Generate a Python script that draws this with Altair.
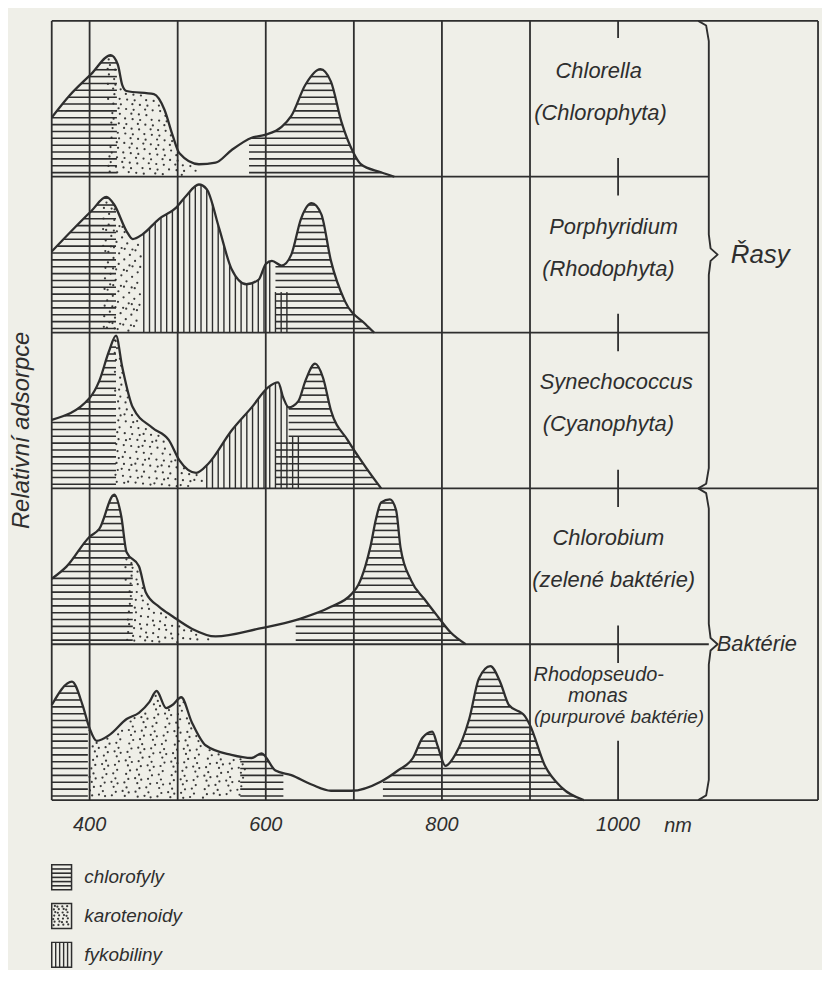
import altair as alt
import pandas as pd
import numpy as np

# ---------------- data ----------------
ROWS = ["Chlorella", "Porphyridium", "Synechococcus", "Chlorobium", "Rhodopseudomonas"]

chlorella_nm = [357, 377, 402, 424, 432, 437, 442, 473, 485, 494, 502, 524, 543, 561, 584, 600,
                618, 629, 645, 662, 674, 686, 699, 708, 730, 746]
chlorella_abs = [0.38, 0.52, 0.66, 0.78, 0.72, 0.59, 0.55, 0.53, 0.43, 0.27, 0.15, 0.08, 0.09, 0.17,
                 0.25, 0.27, 0.32, 0.39, 0.59, 0.69, 0.61, 0.35, 0.16, 0.08, 0.03, 0.0]

porphyridium_nm = [357, 402, 419, 428, 442, 449, 460, 479, 498, 510, 524, 533, 547, 561, 578, 592,
                   600, 607, 618, 629, 640, 652, 663, 674, 690, 713, 723]
porphyridium_abs = [0.52, 0.78, 0.87, 0.82, 0.65, 0.60, 0.63, 0.73, 0.80, 0.88, 0.95, 0.92, 0.67,
                    0.41, 0.31, 0.34, 0.44, 0.46, 0.43, 0.50, 0.73, 0.83, 0.76, 0.46, 0.20, 0.055, 0.0]

synechococcus_nm = [357, 400, 411, 422, 430, 437, 449, 471, 490, 502, 521, 535, 561, 584, 603, 614,
                    620, 626, 637, 645, 656, 665, 674, 693, 713, 731]
synechococcus_abs = [0.44, 0.58, 0.69, 0.88, 0.98, 0.78, 0.52, 0.39, 0.31, 0.18, 0.10, 0.16, 0.37,
                     0.52, 0.65, 0.68, 0.58, 0.52, 0.56, 0.69, 0.80, 0.71, 0.50, 0.31, 0.14, 0.0]

chlorobium_nm = [357, 374, 400, 411, 428, 436, 442, 456, 464, 479, 494, 516, 543, 592, 637, 674,
                 697, 705, 713, 719, 725, 731, 741, 748, 753, 765, 780, 795, 810, 827]
chlorobium_abs = [0.42, 0.50, 0.69, 0.74, 0.96, 0.82, 0.59, 0.50, 0.33, 0.24, 0.18, 0.10, 0.05,
                  0.10, 0.16, 0.24, 0.32, 0.38, 0.50, 0.63, 0.80, 0.91, 0.93, 0.86, 0.62, 0.41,
                  0.29, 0.18, 0.075, 0.0]

rhodopseudomonas_nm = [357, 380, 392, 400, 408, 423, 442, 456, 468, 476, 487, 494, 504, 516, 532,
                       561, 584, 595, 611, 629, 652, 674, 697, 731, 750, 767, 778, 789, 795, 804,
                       815, 831, 842, 855, 866, 876, 894, 900, 917, 936, 961]
rhodopseudomonas_abs = [0.61, 0.76, 0.61, 0.46, 0.38, 0.42, 0.52, 0.56, 0.63, 0.70, 0.59, 0.61,
                        0.66, 0.50, 0.35, 0.29, 0.27, 0.30, 0.19, 0.16, 0.10, 0.06, 0.06, 0.12,
                        0.19, 0.27, 0.40, 0.44, 0.35, 0.22, 0.29, 0.52, 0.78, 0.86, 0.76, 0.61,
                        0.54, 0.48, 0.22, 0.08, 0.0]

SPECTRA = {
    "Chlorella": (chlorella_nm, chlorella_abs),
    "Porphyridium": (porphyridium_nm, porphyridium_abs),
    "Synechococcus": (synechococcus_nm, synechococcus_abs),
    "Chlorobium": (chlorobium_nm, chlorobium_abs),
    "Rhodopseudomonas": (rhodopseudomonas_nm, rhodopseudomonas_abs),
}

PIGMENTS = ["chlorofyly", "karotenoidy", "fykobiliny"]

# pigment band of each spectrum: (row, pigment, from nm, to nm, upper limit of the band)
region_row = ["Chlorella", "Chlorella", "Chlorella",
              "Porphyridium", "Porphyridium", "Porphyridium", "Porphyridium", "Porphyridium",
              "Synechococcus", "Synechococcus", "Synechococcus", "Synechococcus", "Synechococcus", "Synechococcus",
              "Chlorobium", "Chlorobium", "Chlorobium",
              "Rhodopseudomonas", "Rhodopseudomonas", "Rhodopseudomonas", "Rhodopseudomonas"]
region_pig = ["chlorofyly", "karotenoidy", "chlorofyly",
              "chlorofyly", "karotenoidy", "fykobiliny", "fykobiliny", "chlorofyly",
              "chlorofyly", "karotenoidy", "fykobiliny", "fykobiliny", "chlorofyly", "chlorofyly",
              "chlorofyly", "karotenoidy", "chlorofyly",
              "chlorofyly", "karotenoidy", "chlorofyly", "chlorofyly"]
region_from = [357, 420, 581,
               357, 415, 458, 611, 611,
               357, 428, 533, 626, 611, 626,
               357, 440, 634,
               357, 398, 571, 733]
region_to = [431, 526, 746,
             430, 458, 611, 630, 723,
             430, 533, 626, 643, 626, 731,
             449, 540, 827,
             398, 580, 620, 961]
region_cap = [1, 1, 1,
              1, 1, 1, 0.26, 1,
              1, 1, 1, 0.33, 0.33, 1,
              1, 1, 1,
              1, 1, 1, 1]

species_text = [["Chlorella", "(Chlorophyta)"],
                ["Porphyridium", "(Rhodophyta)"],
                ["Synechococcus", "(Cyanophyta)"],
                ["Chlorobium", "(zelené baktérie)"],
                ["Rhodopseudo-", "monas", "(purpurové baktérie)"]]

group_names = ["Řasy", "Baktérie"]
group_first_row = [0, 3]
group_last_row = [2, 4]

grid_nm = [400, 500, 600, 700, 800, 900]
tick_labels = [400, 600, 800, 1000]
unit_label = "nm"
y_title = "Relativní adsorpce"

# ---------------- layout / style ----------------
X0, X1 = 357, 1227          # plot area in nm
BRACE_X = 1103
TEXT_X = [[978, 980], [995, 989], [998, 989], [989, 995], [978, 977, 1001]]
INK = "#2e2e2e"
PAPER = "#efefe8"
FONT = "Liberation Sans"
H_STEP = 0.044              # horizontal hatch spacing (row units)
V_STEP = 6.5                # vertical hatch spacing (nm)
PX_X = 771 / (X1 - X0)
PX_Y = 784 / 5.0


def monotone(xs, ys):
    xs = np.asarray(xs, float)
    ys = np.asarray(ys, float)
    n = len(xs)
    h = np.diff(xs)
    s = np.diff(ys) / h
    t = np.zeros(n)
    for i in range(1, n - 1):
        p = (s[i - 1] * h[i] + s[i] * h[i - 1]) / (h[i - 1] + h[i])
        t[i] = (np.sign(s[i - 1]) + np.sign(s[i])) * min(abs(s[i - 1]), abs(s[i]), 0.5 * abs(p))
    t[0] = (3 * s[0] - t[1]) / 2
    t[-1] = (3 * s[-1] - t[-2]) / 2

    def f(x):
        x = np.asarray(x, float)
        i = np.clip(np.searchsorted(xs, x, side="right") - 1, 0, n - 2)
        hh = h[i]
        u = (x - xs[i]) / hh
        h00 = 2 * u ** 3 - 3 * u ** 2 + 1
        h10 = u ** 3 - 2 * u ** 2 + u
        h01 = -2 * u ** 3 + 3 * u ** 2
        h11 = u ** 3 - u ** 2
        return h00 * ys[i] + h10 * hh * t[i] + h01 * ys[i + 1] + h11 * hh * t[i + 1]
    return f


def r2_points(n):
    g = 1.32471795724474602596
    k = np.arange(1, n + 1)
    return (0.5 + k / g) % 1.0, (0.5 + k / g ** 2) % 1.0


curve_rows, hrules, vrules, dots = [], [], [], []
funcs = {}
for i, name in enumerate(ROWS):
    nm, ab = SPECTRA[name]
    base = 4 - i
    funcs[name] = monotone(nm, ab)
    for k, (a, b) in enumerate(zip(nm, ab)):
        curve_rows.append({"row": name, "nm": a, "y": base + b, "k": k})

for name, pig, a0, a1, cap in zip(region_row, region_pig, region_from, region_to, region_cap):
    i = ROWS.index(name)
    base = 4 - i
    f = funcs[name]
    nm = SPECTRA[name][0]
    a1 = min(a1, nm[-1])
    xx = np.arange(a0, a1 + 1e-9, 0.2)
    yy = f(xx)
    if pig == "chlorofyly":
        lev = H_STEP * 0.6
        while lev < min(cap, yy.max()):
            above = np.concatenate([[0], (yy > lev).astype(int), [0]])
            d = np.diff(above)
            starts = np.where(d == 1)[0]
            ends = np.where(d == -1)[0] - 1
            for s0, e0 in zip(starts, ends):
                if xx[e0] - xx[s0] > 0.3:
                    hrules.append({"x": xx[s0], "x2": xx[e0], "y": base + lev})
            lev += H_STEP
    elif pig == "fykobiliny":
        xv = np.arange(np.ceil(a0 / V_STEP) * V_STEP, a1, V_STEP)
        for x in xv:
            top = min(float(f(x)), cap)
            if top > 0.01:
                vrules.append({"x": x, "y": base, "y2": base + top})
    else:
        top = min(cap, yy.max())
        area = (a1 - a0) * PX_X * top * PX_Y
        n = int(area / 44)
        u, v = r2_points(n)
        px = a0 + u * (a1 - a0)
        py = v * top
        ok = (py < f(px) - 0.012) & (py > 0.012)
        for x, y in zip(px[ok], py[ok]):
            dots.append({"x": x, "y": base + y})

curves = pd.DataFrame(curve_rows)
hdf = pd.DataFrame(hrules)
vdf = pd.DataFrame(vrules)
ddf = pd.DataFrame(dots)

# frame and grid
frame = []
for g in grid_nm:
    frame.append({"x": g, "x2": g, "y": 0, "y2": 5})
frame += [{"x": X0, "x2": X0, "y": 0, "y2": 5}, {"x": X1, "x2": X1, "y": 0, "y2": 5},
          {"x": X0, "x2": X1, "y": 5, "y2": 5}, {"x": X0, "x2": X1, "y": 0, "y2": 0},
          {"x": X0, "x2": X1, "y": 2, "y2": 2}]
for yb in [4, 3, 1]:
    frame.append({"x": X0, "x2": BRACE_X, "y": yb, "y2": yb})
# ticks at 1000 nm
frame.append({"x": 1000, "x2": 1000, "y": 5, "y2": 4.89})
for yb in [4, 3, 2, 1]:
    frame.append({"x": 1000, "x2": 1000, "y": yb - 0.12, "y2": yb + 0.12})
frame.append({"x": 1000, "x2": 1000, "y": 0, "y2": 0.38})
fdf = pd.DataFrame(frame)

# braces
brace = []
for gi, (nm_, r0, r1) in enumerate(zip(group_names, group_first_row, group_last_row)):
    yt, yb = 5 - r0, 4 - r1
    mid = (yt + yb) / 2
    e, r = 12, 0.13
    pts = [(BRACE_X - e, yt), (BRACE_X - 3, yt - 0.03), (BRACE_X, yt - r),
           (BRACE_X, mid + r), (BRACE_X + 2, mid + 0.04), (BRACE_X + 10, mid),
           (BRACE_X + 2, mid - 0.04), (BRACE_X, mid - r),
           (BRACE_X, yb + r), (BRACE_X - 3, yb + 0.03), (BRACE_X - e, yb)]
    for k, (x, y) in enumerate(pts):
        brace.append({"g": nm_, "x": x, "y": y, "k": k})
bdf = pd.DataFrame(brace)

# labels
lab = []
for i, lines in enumerate(species_text):
    top = 5 - i
    offs = [0.32, 0.59] if len(lines) == 2 else [0.2, 0.335, 0.47]
    sizes = [22, 22] if len(lines) == 2 else [20, 20, 19]
    for t, o, xx_, s in zip(lines, offs, TEXT_X[i], sizes):
        lab.append({"t": t, "x": xx_, "y": top - o, "s": s})
ldf = pd.DataFrame(lab)

gdf = pd.DataFrame([
    {"t": group_names[0], "x": BRACE_X + 25, "y": (5 - group_first_row[0] + 4 - group_last_row[0]) / 2, "s": 26},
    {"t": group_names[1], "x": BRACE_X + 9, "y": (5 - group_first_row[1] + 4 - group_last_row[1]) / 2, "s": 22},
])

tdf = pd.DataFrame({"x": tick_labels, "t": [str(v) for v in tick_labels], "y": -0.16})
udf = pd.DataFrame({"x": [1068], "t": [unit_label], "y": [-0.165]})

# legend
leg_top = [-0.415 - 0.249 * k for k in range(len(PIGMENTS))]
SW_H = 0.16
SW_X0, SW_X1 = X0, X0 + 22.5
leg_box = pd.DataFrame({"x": SW_X0, "x2": SW_X1, "y": leg_top, "y2": [t - SW_H for t in leg_top]})
leg_lab = pd.DataFrame({"t": PIGMENTS, "x": X0 + 37, "y": [t - SW_H / 2 for t in leg_top]})
leg_h, leg_v, leg_d = [], [], []
yl = leg_top[0] - 0.027
while yl > leg_top[0] - SW_H:
    leg_h.append({"x": SW_X0, "x2": SW_X1, "y": yl})
    yl -= 0.027
xl = SW_X0 + 4.5
while xl < SW_X1:
    leg_v.append({"x": xl, "y": leg_top[2], "y2": leg_top[2] - SW_H})
    xl += 4.5
u, v = r2_points(28)
for a, b in zip(u, v):
    leg_d.append({"x": SW_X0 + 1.5 + a * (SW_X1 - SW_X0 - 3), "y": leg_top[1] - 0.01 - b * (SW_H - 0.02)})
hdf = pd.concat([hdf, pd.DataFrame(leg_h)], ignore_index=True)
vdf = pd.concat([vdf, pd.DataFrame(leg_v)], ignore_index=True)
ddf = pd.concat([ddf, pd.DataFrame(leg_d)], ignore_index=True)

# ---------------- chart ----------------
xs = alt.Scale(domain=[X0, X1], nice=False, zero=False)
ys = alt.Scale(domain=[0, 5], nice=False, zero=False)


def X(f="x"):
    return alt.X(f"{f}:Q", scale=xs, axis=None)


def Y(f="y"):
    return alt.Y(f"{f}:Q", scale=ys, axis=None)


h_layer = alt.Chart(hdf).mark_rule(color=INK, strokeWidth=1.6, clip=False).encode(
    x=X(), x2="x2:Q", y=Y())
v_layer = alt.Chart(vdf).mark_rule(color=INK, strokeWidth=1.4, clip=False).encode(
    x=X(), y=Y(), y2="y2:Q")
d_layer = alt.Chart(ddf).mark_circle(color=INK, size=5, opacity=0.95, clip=False).encode(
    x=X(), y=Y())
c_layer = alt.Chart(curves).mark_line(color=INK, strokeWidth=2.3, interpolate="monotone").encode(
    x=X("nm"), y=Y(), detail="row:N", order="k:Q")
f_layer = alt.Chart(fdf).mark_rule(color=INK, strokeWidth=1.8, clip=False).encode(
    x=X(), x2="x2:Q", y=Y(), y2="y2:Q")
b_layer = alt.Chart(bdf).mark_line(color=INK, strokeWidth=1.9, interpolate="linear",
                                   strokeJoin="round").encode(
    x=X(), y=Y(), detail="g:N", order="k:Q")
box_layer = alt.Chart(leg_box).mark_rect(fill=None, stroke=INK, strokeWidth=1.5, clip=False).encode(
    x=X(), x2="x2:Q", y=Y(), y2="y2:Q")

txt = dict(font=FONT, fontStyle="italic", color=INK, baseline="middle", clip=False)
l_layer = alt.Chart(ldf).mark_text(align="center", **txt).encode(
    x=X(), y=Y(), text="t:N", size=alt.Size("s:Q", scale=None, legend=None))
g_layer = alt.Chart(gdf).mark_text(align="left", **txt).encode(
    x=X(), y=Y(), text="t:N", size=alt.Size("s:Q", scale=None, legend=None))
t_layer = alt.Chart(tdf).mark_text(align="center", fontSize=20, **txt).encode(
    x=X(), y=Y(), text="t:N")
u_layer = alt.Chart(udf).mark_text(align="center", fontSize=20, **txt).encode(
    x=X(), y=Y(), text="t:N")
ll_layer = alt.Chart(leg_lab).mark_text(align="left", fontSize=19, **txt).encode(
    x=X(), y=Y(), text="t:N")
yt_layer = alt.Chart(pd.DataFrame({"t": [y_title]})).mark_text(
    align="center", angle=270, fontSize=24, **txt).encode(
    x=alt.value(-30), y=alt.value(412), text="t:N")

chart = alt.layer(
    h_layer, v_layer, d_layer, f_layer, c_layer, b_layer, box_layer,
    l_layer, g_layer, t_layer, u_layer, ll_layer, yt_layer
).properties(
    width=771, height=784,
    padding={"left": 44, "top": 10, "right": 4, "bottom": 168},
    autosize=alt.AutoSizeParams(type="none"),
    background=PAPER,
).configure_view(stroke=None)

chart.save("out.html", embed_options={"renderer": "svg", "actions": False})
